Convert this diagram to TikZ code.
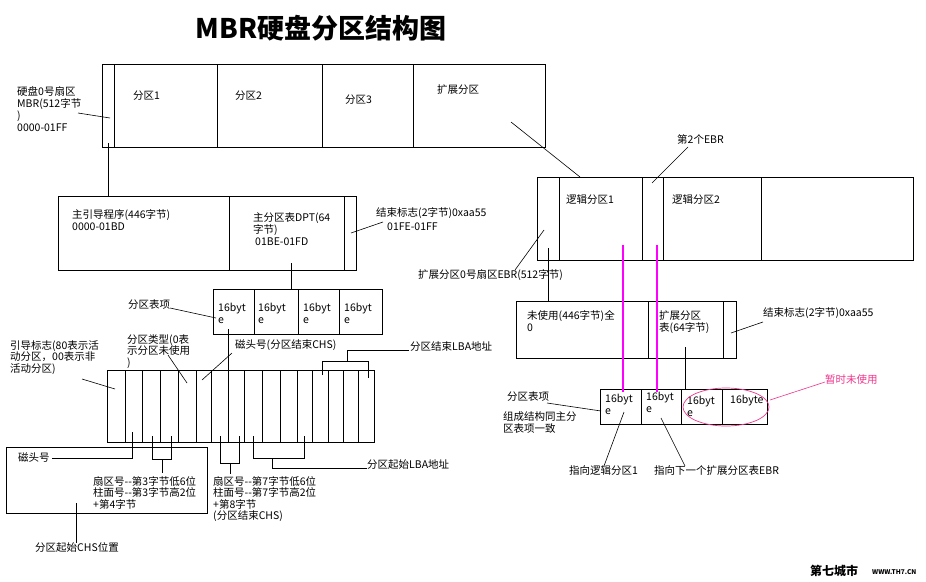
\documentclass[tikz,border=0pt]{standalone}
\usepackage{fontspec}
\usetikzlibrary{shapes.geometric}
\setmainfont{Noto Sans CJK SC}
\definecolor{hotpink}{HTML}{F0368C}
\definecolor{mag}{HTML}{FF00FF}
\begin{document}
\begin{tikzpicture}[x=1pt,y=-1pt,
  box/.style={draw, line width=0.8pt, inner sep=0pt, anchor=north west},
  dv/.style={line width=0.8pt},
  ln/.style={line width=0.6pt},
  lbl/.style={anchor=north west, inner sep=0pt, align=left, font=\fontsize{10.5}{12}\selectfont},
  pinkln/.style={draw=mag, line width=2.6pt}]
\useasboundingbox[fill=white] (0,0) rectangle (926,581);

% title
\node[inner sep=0pt, font=\fontsize{27}{30}\selectfont\bfseries] (title) at (321,28) {MBR硬盘分区结构图};

% ---------- top disk box ----------
\node[box, minimum width=443pt, minimum height=83pt] (disk) at (102,64) {};
\foreach \x in {114,217,322,413} \draw[dv] (\x,64) -- (\x,147);
\node[lbl] (p1) at (133,91) {分区1};
\node[lbl] (p2) at (235,91) {分区2};
\node[lbl] (p3) at (345,95) {分区3};
\node[lbl] (pext) at (437,84) {扩展分区};
\node[lbl] (mbrl) at (17,86) {硬盘0号扇区\\MBR(512字节\\)\\0000-01FF};
\coordinate (a1) at (78,113); \coordinate (a2) at (110,118);
\draw[ln] (a1) -- (a2);

% ---------- MBR box ----------
\node[box, minimum width=298pt, minimum height=74pt] (boot) at (58,196) {};
\foreach \x in {229,344} \draw[dv] (\x,196) -- (\x,270);
\coordinate (m1) at (108,143); \coordinate (m2) at (108,196);
\draw[ln] (m1) -- (m2);
\node[lbl] (bootl) at (72,209) {主引导程序(446字节)\\0000-01BD};
\node[lbl] (dptl) at (253,212) {主分区表DPT(64\\字节)};
\node[lbl] (dpta) at (255,238) {01BE-01FD};
\node[lbl] (endl) at (376,207) {结束标志(2字节)0xaa55};
\node[lbl] (enda) at (387,223) {01FE-01FF};
\coordinate (e1) at (351,233); \coordinate (e2) at (383,222);
\draw[ln] (e1) -- (e2);

% ---------- DPT entries ----------
\node[box, minimum width=169pt, minimum height=45pt] (dpt) at (213,289) {};
\foreach \x in {254,298,339} \draw[dv] (\x,289) -- (\x,334);
\foreach \x [count=\i] in {218,258,303,344} \node[lbl] (b\i) at (\x,303) {16byt\\e};
\coordinate (d1) at (291,263); \coordinate (d2) at (291,289);
\draw[ln] (d1) -- (d2);
\node[lbl] (ptel) at (128,299) {分区表项};
\coordinate (q1) at (170,308); \coordinate (q2) at (216,318);
\draw[ln] (q1) -- (q2);

% ---------- 16 byte fields ----------
\node[box, minimum width=267pt, minimum height=72pt] (fields) at (107,370) {};
\foreach \x in {125,142,160,178,196,211,228,244,262,280,297,312,328,343,358} \draw[dv] (\x,370) -- (\x,442);
\coordinate (f1) at (228,329); \coordinate (f2) at (228,370);
\draw[ln] (f1) -- (f2);

\node[lbl, font=\fontsize{10.5}{11.5}\selectfont] (flag) at (10,340) {引导标志(80表示活\\动分区，00表示非\\活动分区)};
\coordinate (g1) at (82,379); \coordinate (g2) at (115,389);
\draw[ln] (g1) -- (g2);
\node[lbl, font=\fontsize{10.5}{11.5}\selectfont] (ptype) at (127,334) {分区类型(0表\\示分区未使用\\)};
\coordinate (t1) at (168,355); \coordinate (t2) at (187,383);
\draw[ln] (t1) -- (t2);
\node[lbl] (headend) at (235,339) {磁头号(分区结束CHS)};
\coordinate (h1) at (232,353); \coordinate (h2) at (202,380);
\draw[ln] (h1) -- (h2);
\node[lbl] (lbaend) at (410,341) {分区结束LBA地址};
\coordinate (l0) at (409,350); \coordinate (l1) at (347,350); \coordinate (l2) at (347,361);
\coordinate (l3) at (322,375); \coordinate (l4) at (322,361); \coordinate (l5) at (368,361); \coordinate (l6) at (368,378);
\draw[ln] (l0) -- (l1) -- (l2);
\draw[ln] (l3) -- (l4) -- (l5) -- (l6);

% ---------- below fields ----------
\node[box, minimum width=201pt, minimum height=66pt] (chsbox) at (6,447) {};
\node[lbl] (head) at (18,452) {磁头号};
\coordinate (k1) at (52,458); \coordinate (k2) at (132,458); \coordinate (k3) at (132,432);
\draw[ln] (k1) -- (k2) -- (k3);
\coordinate (c1) at (152,436); \coordinate (c2) at (152,459); \coordinate (c3) at (171,459); \coordinate (c4) at (171,436);
\coordinate (c5) at (162,459); \coordinate (c6) at (162,473);
\draw[ln] (c1) -- (c2) -- (c3) -- (c4);
\draw[ln] (c5) -- (c6);
\node[lbl, font=\fontsize{10.5}{11.5}\selectfont] (chs1) at (93,476) {扇区号-{}-第3字节低6位\\柱面号-{}-第3字节高2位\\+第4字节};
\coordinate (s1) at (76,503); \coordinate (s2) at (76,543);
\draw[ln] (s1) -- (s2);
\node[lbl] (chsstart) at (35,542) {分区起始CHS位置};

\coordinate (n1) at (220,436); \coordinate (n2) at (220,463); \coordinate (n3) at (239,463); \coordinate (n4) at (239,436);
\coordinate (n5) at (230,463); \coordinate (n6) at (230,474);
\draw[ln] (n1) -- (n2) -- (n3) -- (n4);
\draw[ln] (n5) -- (n6);
\node[lbl, font=\fontsize{10.5}{11.5}\selectfont] (chs2) at (213,476) {扇区号-{}-第7字节低6位\\柱面号-{}-第7字节高2位\\+第8字节\\(分区结束CHS)};

\coordinate (r1) at (253,436); \coordinate (r2) at (253,458); \coordinate (r3) at (304,458); \coordinate (r4) at (304,436);
\coordinate (r5) at (272,458); \coordinate (r6) at (272,468); \coordinate (r7) at (367,468);
\draw[ln] (r1) -- (r2) -- (r3) -- (r4);
\draw[ln] (r5) -- (r6) -- (r7);
\node[lbl] (lbastart) at (367,459) {分区起始LBA地址};

% ---------- extended partition ----------
\coordinate (x1) at (511,122); \coordinate (x2) at (580,177);
\draw[ln] (x1) -- (x2);
\node[box, minimum width=376pt, minimum height=83pt] (logic) at (537,177) {};
\foreach \x in {559,642,663,761} \draw[dv] (\x,177) -- (\x,260);
\node[lbl] (lg1) at (566,194) {逻辑分区1};
\node[lbl] (lg2) at (672,194) {逻辑分区2};
\node[lbl] (ebr2) at (677,134) {第2个EBR};
\coordinate (y1) at (688,147); \coordinate (y2) at (652,183);
\draw[ln] (y1) -- (y2);
\node[lbl] (ebr0) at (418,269) {扩展分区0号扇区EBR(512字节)};
\coordinate (z1) at (515,270); \coordinate (z2) at (544,230);
\draw[ln] (z1) -- (z2);
\coordinate (v1) at (548,248); \coordinate (v2) at (548,301);
\draw[ln] (v1) -- (v2);

% EBR box
\node[box, minimum width=220pt, minimum height=57pt] (ebr) at (516,301) {};
\foreach \x in {648,723} \draw[dv] (\x,301) -- (\x,358);
\node[lbl] (unused) at (527,310) {未使用(446字节)全\\0};
\node[lbl] (extpt) at (659,310) {扩展分区\\表(64字节)};
\node[lbl] (end2) at (763,307) {结束标志(2字节)0xaa55};
\coordinate (w1) at (731,333); \coordinate (w2) at (763,322);
\draw[ln] (w1) -- (w2);
\coordinate (u1) at (685,347); \coordinate (u2) at (685,389);
\draw[ln] (u1) -- (u2);

% EBR entries
\node[box, minimum width=167pt, minimum height=35pt] (entries) at (600,389) {};
\foreach \x in {641,681,722} \draw[dv] (\x,389) -- (\x,424);
\node[lbl] (eb1) at (605,394) {16byt\\e};
\node[lbl] (eb2) at (646,392) {16byt\\e};
\node[lbl] (eb3) at (687,396) {16byt\\e};
\node[lbl] (eb4) at (730,395) {16byte};
\node[draw=hotpink, line width=0.7pt, ellipse, minimum width=86pt, minimum height=38pt, inner sep=0pt] (unusedmark) at (726,407) {};
\node[lbl, text=hotpink] (tmp) at (825,374) {暂时未使用};
\coordinate (o1) at (770,400); \coordinate (o2) at (825,382);
\draw[ln, draw=hotpink] (o1) -- (o2);

\node[lbl] (pte2) at (507,391) {分区表项};
\coordinate (i1) at (547,403); \coordinate (i2) at (601,411);
\draw[ln] (i1) -- (i2);
\node[lbl] (same) at (503,411) {组成结构同主分\\区表项一致};

\node[lbl] (pt1) at (569,465) {指向逻辑分区1};
\node[lbl] (pt2) at (654,465) {指向下一个扩展分区表EBR};
\coordinate (j1) at (624,412); \coordinate (j2) at (604,466);
\draw[ln] (j1) -- (j2);
\coordinate (j3) at (661,418); \coordinate (j4) at (685,466);
\draw[ln] (j3) -- (j4);

% magenta links
\coordinate (pk1) at (623,245); \coordinate (pk2) at (623,392);
\coordinate (pk3) at (657,245); \coordinate (pk4) at (657,392);
\draw[pinkln] (pk1) -- (pk2);
\draw[pinkln] (pk3) -- (pk4);

% watermark
\node[anchor=west, inner sep=0pt, font=\fontsize{12}{12}\selectfont\bfseries] (wm1) at (810,571) {第七城市};
\node[anchor=west, inner sep=0pt, font=\fontsize{6.5}{7}\selectfont\bfseries] (wm2) at (872,572) {WWW.TH7.CN};
\end{tikzpicture}
\end{document}
